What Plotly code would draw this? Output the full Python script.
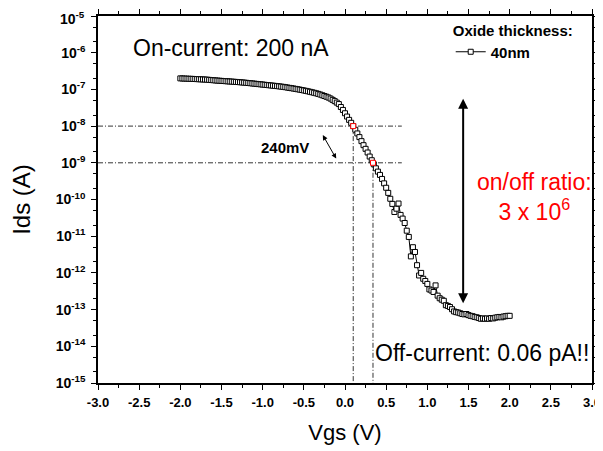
import numpy as np
import plotly.graph_objects as go

# Gate voltage sweep (V)
vgs = [round(-2.0 + 0.025 * i, 3) for i in range(161)]

# log10 of drain current Ids (A)
ids_log10 = [
    -6.700, -6.702, -6.705, -6.707, -6.710, -6.712, -6.714, -6.717, -6.720, -6.723,
    -6.726, -6.729, -6.732, -6.735, -6.740, -6.745, -6.750, -6.755, -6.760, -6.764,
    -6.768, -6.772, -6.776, -6.780, -6.784, -6.788, -6.792, -6.796, -6.800, -6.805,
    -6.810, -6.815, -6.820, -6.826, -6.832, -6.838, -6.844, -6.850, -6.856, -6.862,
    -6.868, -6.874, -6.880, -6.886, -6.892, -6.898, -6.904, -6.910, -6.917, -6.924,
    -6.931, -6.940, -6.949, -6.958, -6.967, -6.976, -6.986, -6.996, -7.006, -7.017,
    -7.028, -7.040, -7.052, -7.065, -7.078, -7.092, -7.106, -7.122, -7.140, -7.160,
    -7.180, -7.200, -7.222, -7.250, -7.285, -7.320, -7.360, -7.400, -7.480, -7.560,
    -7.650, -7.740, -7.830, -7.910, -8.000, -8.100, -8.200, -8.300, -8.410, -8.520,
    -8.620, -8.720, -8.830, -8.930, -9.040, -9.150, -9.240, -9.330, -9.440, -9.560,
    -9.680, -9.820, -9.980, -10.120, -10.340, -10.250, -10.110, -10.420, -10.520, -10.640,
    -10.850, -11.020, -11.550, -11.300, -11.430, -11.790, -12.070, -12.000, -12.160, -12.220,
    -12.300, -12.450, -12.480, -12.520, -12.340, -12.620, -12.690, -12.730, -12.760, -12.880,
    -12.900, -12.930, -12.990, -13.050, -13.070, -13.080, -13.100, -13.120, -13.130, -13.120,
    -13.150, -13.170, -13.180, -13.200, -13.210, -13.230, -13.250, -13.240, -13.250, -13.240,
    -13.250, -13.230, -13.240, -13.220, -13.210, -13.200, -13.210, -13.190, -13.180, -13.170,
    -13.170,
]
ids = [10 ** v for v in ids_log10]

# Highlighted points (red) where Ids crosses 10 nA and 1 nA
mark_vgs = [0.10, 0.34]
mark_ids = [1e-8, 1e-9]

# Reference guide levels
guide_x_end = 0.69
axis_x_min, axis_x_max = -3.0, 3.0
axis_y_min_exp, axis_y_max_exp = -15, -5

x_tick_vals = [-3.0, -2.5, -2.0, -1.5, -1.0, -0.5, 0.0, 0.5, 1.0, 1.5, 2.0, 2.5, 3.0]
x_tick_text = ["<b>%.1f</b>" % v for v in x_tick_vals]

y_tick_exps = list(range(axis_y_min_exp, axis_y_max_exp + 1))
y_tick_vals = [10.0 ** e for e in y_tick_exps]
# the topmost label is drawn as an annotation (nudged down so it is not clipped)
y_tick_text = ["<b>10<sup>%d</sup></b>" % e if e != axis_y_max_exp else "" for e in y_tick_exps]

FONT = "Arial, 'Liberation Sans', sans-serif"
DASHDOT = "5px,2px,1px,2px"

fig = go.Figure()

# dash-dot guide lines
for xs, ys in [
    ([axis_x_min, guide_x_end], [mark_ids[0], mark_ids[0]]),
    ([axis_x_min, guide_x_end], [mark_ids[1], mark_ids[1]]),
    ([mark_vgs[0], mark_vgs[0]], [mark_ids[0], 10.0 ** axis_y_min_exp]),
    ([mark_vgs[1], mark_vgs[1]], [mark_ids[1], 10.0 ** axis_y_min_exp]),
]:
    fig.add_trace(go.Scatter(x=xs, y=ys, mode="lines",
                             line=dict(color="black", width=0.8, dash=DASHDOT),
                             showlegend=False, hoverinfo="skip"))

# data
fig.add_trace(go.Scatter(
    x=vgs, y=ids, mode="lines+markers", name="<b>40nm</b>",
    line=dict(color="black", width=1),
    marker=dict(symbol="square", size=5, color="white", line=dict(color="black", width=1)),
))
fig.add_trace(go.Scatter(
    x=mark_vgs, y=mark_ids, mode="markers", showlegend=False,
    marker=dict(symbol="square", size=5, color="white", line=dict(color="red", width=1)),
))

annotations = [
    dict(x=0, xref="paper", xanchor="right", xshift=-12,
         y=axis_y_max_exp, yref="y", yanchor="top", yshift=8,
         text="<b>10<sup>%d</sup></b>" % axis_y_max_exp, showarrow=False, borderpad=0,
         font=dict(family=FONT, size=14, color="black")),
    dict(x=-1.39, y=-5.88, xref="x", yref="y", text="On-current: 200 nA", showarrow=False,
         font=dict(family=FONT, size=23, color="black")),
    dict(x=1.66, y=-14.19, xref="x", yref="y", text="Off-current: 0.06 pA!!", showarrow=False,
         font=dict(family=FONT, size=23, color="black")),
    dict(x=2.30, y=-9.94, xref="x", yref="y", text="on/off ratio:<br>3 x 10<sup>6</sup>", showarrow=False,
         font=dict(family=FONT, size=23, color="red"), align="center"),
    dict(x=-0.725, y=-8.586, xref="x", yref="y", text="<b>240mV</b>", showarrow=False,
         font=dict(family=FONT, size=15, color="black")),
    # 240 mV double arrow
    dict(x=-0.107, y=-8.886, ax=-0.28, ay=-8.204, xref="x", yref="y", axref="x", ayref="y",
         text="", showarrow=True, arrowhead=2, arrowside="end+start", arrowsize=1, arrowwidth=1, arrowcolor="black"),
    # on/off double arrow
    dict(x=1.435, y=-12.83, ax=1.435, ay=-7.215, xref="x", yref="y", axref="x", ayref="y",
         text="", showarrow=True, arrowhead=2, arrowside="end+start", arrowsize=1, arrowwidth=2, arrowcolor="black"),
]

# page body has an 8px default margin, so the figure is sized to fit the window
fig.update_layout(
    width=595, height=443,
    margin=dict(l=90, r=11, t=8, b=68),
    paper_bgcolor="white", plot_bgcolor="white",
    font=dict(family=FONT, color="black"),
    annotations=annotations,
    showlegend=True,
    legend=dict(
        x=0.714, y=1.0, xanchor="left", yanchor="top",
        bgcolor="rgba(0,0,0,0)",
        title=dict(text="<b>Oxide thickness:</b>", font=dict(family=FONT, size=15, color="black")),
        font=dict(family=FONT, size=15, color="black"),
        itemwidth=30, tracegroupgap=0,
    ),
)

fig.update_xaxes(
    range=[axis_x_min, axis_x_max], tickvals=x_tick_vals, ticktext=x_tick_text,
    showgrid=False, zeroline=False, automargin=False, ticklabeloverflow="allow",
    showline=True, linecolor="black", linewidth=1.5, mirror="allticks",
    ticks="outside", ticklen=5, tickwidth=1.2, tickcolor="black", ticklabelstandoff=2,
    minor=dict(ticks="outside", ticklen=3, dtick=0.25, tick0=0, tickcolor="black", tickwidth=1),
    tickfont=dict(family=FONT, size=13, color="black"),
    title=dict(text="Vgs (V)", font=dict(family=FONT, size=22, color="black"), standoff=15),
)
fig.update_yaxes(
    type="log", range=[axis_y_min_exp, axis_y_max_exp],
    tickvals=y_tick_vals, ticktext=y_tick_text,
    showgrid=False, zeroline=False, automargin=False, ticklabeloverflow="allow",
    showline=True, linecolor="black", linewidth=1.5, mirror="allticks",
    ticks="outside", ticklen=5, tickwidth=1.2, tickcolor="black", ticklabelstandoff=3,
    minor=dict(ticks="outside", ticklen=3, tickcolor="black", tickwidth=1, showgrid=False),
    tickfont=dict(family=FONT, size=14, color="black"),
    title=dict(text="Ids (A)", font=dict(family=FONT, size=24, color="black"), standoff=30),
)

fig.write_html("out.html")
